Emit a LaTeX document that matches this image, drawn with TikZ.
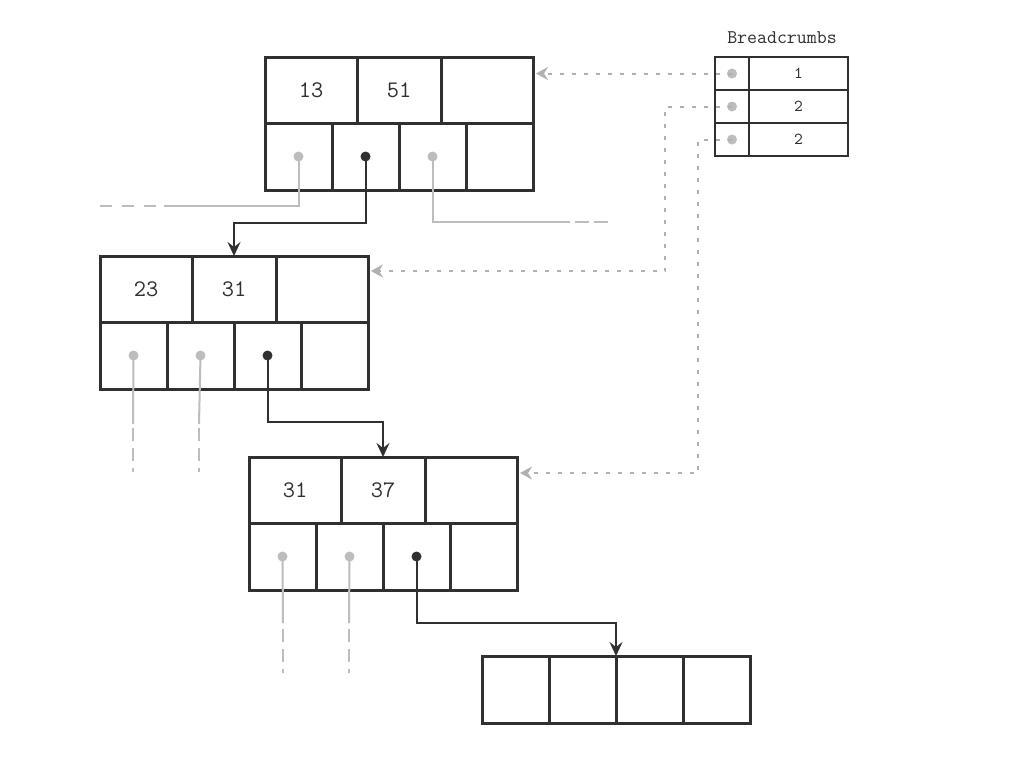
\documentclass[tikz,border=0pt]{standalone}
\usetikzlibrary{arrows.meta,calc}
\definecolor{ink}{HTML}{303030}
\definecolor{faint}{HTML}{BDBDBD}
\definecolor{crumbgray}{HTML}{B0B0B0}
\def\u{0.02cm}
\tikzset{
  cellbase/.style={draw=ink, line width=3*\u, outer sep=0pt, inner sep=0pt, rectangle},
  keycell/.style={cellbase, minimum height=66*\u, font=\fontsize{13.5}{15}\selectfont\ttfamily, text=ink},
  ptrcell/.style={cellbase, minimum width=67*\u, minimum height=67*\u},
  crumbcell/.style={draw=ink, line width=2*\u, outer sep=0pt, inner sep=0pt, rectangle,
                    minimum height=33*\u, font=\fontsize{9.5}{11}\selectfont\ttfamily, text=ink},
  gdot/.style={circle, fill=faint, inner sep=0pt, minimum size=10*\u},
  bdot/.style={circle, fill=ink, inner sep=0pt, minimum size=10*\u},
  liveptr/.style={draw=ink, line width=2*\u, -{Stealth[length=14*\u, width=13*\u, inset=5*\u]}},
  deadptr/.style={draw=faint, line width=2*\u},
  % fading tails, drawn from the free end inwards
  downtail/.style={draw=faint, line width=2*\u, dash pattern=on 4*\u off 7*\u on 13*\u off 7*\u on 13*\u off 20*\u},
  lefttail/.style={draw=faint, line width=2*\u, dash pattern=on 12*\u off 10*\u on 12*\u off 10*\u on 12*\u off 20*\u},
  righttail/.style={draw=faint, line width=2*\u, dash pattern=on 14*\u off 5*\u on 14*\u off 5*\u on 20*\u off 20*\u},
  crumb/.style={draw=crumbgray, line width=2*\u, dash pattern=on 4*\u off 8*\u,
                -{Stealth[length=12*\u, width=13*\u, inset=4*\u]}, shorten >=3*\u},
}
% One interior B-tree node: two keys and four child pointers
\newcommand{\btnode}[5]{%
  \node[keycell, minimum width=92*\u, anchor=north west] (#1k1) at (#2,#3) {#4};
  \node[keycell, minimum width=84*\u, anchor=north west] (#1k2) at (#1k1.north east) {#5};
  \node[keycell, minimum width=92*\u, anchor=north west] (#1k3) at (#1k2.north east) {};
  \node[ptrcell, anchor=north west] (#1p1) at (#1k1.south west) {};
  \node[ptrcell, anchor=north west] (#1p2) at (#1p1.north east) {};
  \node[ptrcell, anchor=north west] (#1p3) at (#1p2.north east) {};
  \node[ptrcell, anchor=north west] (#1p4) at (#1p3.north east) {};
}
\begin{document}
\begin{tikzpicture}[x=0.02cm,y=-0.02cm]
\useasboundingbox (0,0) rectangle (1024,765);
\fill[white] (0,0) rectangle (1024,765);

% tree nodes
\btnode{a}{265}{57}{13}{51}
\btnode{b}{100}{256}{23}{31}
\btnode{c}{249}{457}{31}{37}

% leaf
\node[ptrcell, anchor=north west] (l1) at (482,656) {};
\node[ptrcell, anchor=north west] (l2) at (l1.north east) {};
\node[ptrcell, anchor=north west] (l3) at (l2.north east) {};
\node[ptrcell, anchor=north west] (l4) at (l3.north east) {};

% child pointers not on the search path
\node[gdot] (da1) at (ap1.center) {};
\node[gdot] (da3) at (ap3.center) {};
\node[gdot] (db1) at (bp1.center) {};
\node[gdot] (db2) at (bp2.center) {};
\node[gdot] (dc1) at (cp1.center) {};
\node[gdot] (dc2) at (cp2.center) {};
\coordinate (ea1) at (100,206);
\coordinate (ea3) at (608,222);
\coordinate (eb1) at (133,472);
\coordinate (eb2) at (199,472);
\coordinate (ec1) at (283,673);
\coordinate (ec2) at (349,673);

\draw[deadptr] (da1.center) |- (164,206);
\draw[lefttail] (ea1) -- (164,206);
\draw[deadptr] (da3.center) |- (552,222);
\draw[righttail] (ea3) -- (552,222);
\draw[deadptr] (db1.center) -- (133,424);
\draw[downtail] (eb1) -- (133,424);
\draw[deadptr] (db2.center) -- (199,424);
\draw[downtail] (eb2) -- (199,424);
\draw[deadptr] (dc1.center) -- (283,623);
\draw[downtail] (ec1) -- (283,623);
\draw[deadptr] (dc2.center) -- (349,623);
\draw[downtail] (ec2) -- (349,623);

% search path
\node[bdot] (da2) at (ap2.center) {};
\node[bdot] (db3) at (bp3.center) {};
\node[bdot] (dc3) at (cp3.center) {};
\draw[liveptr] (da2.center) -- ++(0,66) -| (bk2.north);
\draw[liveptr] (db3.center) -- ++(0,66) -| (ck2.north);
\draw[liveptr] (dc3.center) -- ++(0,66) -| (l3.north west);

% breadcrumbs stack
\node[font=\fontsize{11}{13}\selectfont\ttfamily, text=ink] (bclabel) at (782,38) {Breadcrumbs};
\node[crumbcell, minimum width=34*\u, anchor=north west] (bs1) at (715,57) {};
\node[crumbcell, minimum width=99*\u, anchor=north west] (bn1) at (bs1.north east) {1};
\node[crumbcell, minimum width=34*\u, anchor=north west] (bs2) at (bs1.south west) {};
\node[crumbcell, minimum width=99*\u, anchor=north west] (bn2) at (bs2.north east) {2};
\node[crumbcell, minimum width=34*\u, anchor=north west] (bs3) at (bs2.south west) {};
\node[crumbcell, minimum width=99*\u, anchor=north west] (bn3) at (bs3.north east) {2};
\node[gdot] (bd1) at (bs1.center) {};
\node[gdot] (bd2) at (bs2.center) {};
\node[gdot] (bd3) at (bs3.center) {};

\draw[crumb] (bd1.center) -- (bd1.center -| ak3.east);
\draw[crumb] (bd2.center) -- ++(-67,0) |- ($(bk3.north east)+(0,15)$);
\draw[crumb] (bd3.center) -- ++(-34,0) |- ($(ck3.north east)+(0,16)$);
\end{tikzpicture}
\end{document}
